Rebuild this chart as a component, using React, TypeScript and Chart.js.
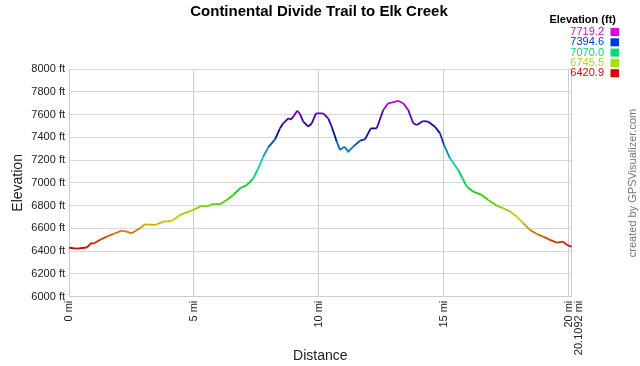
import React, { useEffect, useRef } from "react";
import { Chart, registerables } from "chart.js";

Chart.register(...registerables);

const chartTitle = "Continental Divide Trail to Elk Creek";
const legendTitle = "Elevation (ft)";
const legendValues = [7719.2, 7394.6, 7070.0, 6745.5, 6420.9];
const creditText = "created by GPSVisualizer.com";
const xTickValues = [0, 5, 10, 15, 20];
const totalDistance = 20.1092;

const distanceMi = [
  0.0, 0.31, 0.71, 0.91, 0.97, 1.24, 1.51, 1.77, 2.11, 2.31, 2.51, 2.84, 3.04, 3.44, 3.77,
  4.11, 4.44, 4.97, 5.31, 5.51, 5.77, 6.04, 6.31, 6.57, 6.84, 7.11, 7.37, 7.57, 7.77, 7.97,
  8.24, 8.44, 8.57, 8.77, 8.87, 8.97, 9.13, 9.24, 9.37, 9.57, 9.71, 9.88, 10.17, 10.37, 10.51,
  10.71, 10.84, 11.02, 11.17, 11.37, 11.64, 11.84, 12.07, 12.31, 12.57, 12.77, 13.17, 13.37,
  13.57, 13.77, 13.91, 14.17, 14.37, 14.64, 14.84, 15.0, 15.24, 15.57, 15.91, 16.17, 16.51,
  16.77, 17.11, 17.37, 17.64, 17.91, 18.17, 18.44, 18.71, 18.97, 19.24, 19.51, 19.77, 19.91,
  20.1092,
];

const elevationFt = [
  6430, 6422, 6432, 6475, 6465, 6499, 6528, 6551, 6580, 6571, 6557, 6601, 6636, 6630, 6660,
  6665, 6718, 6762, 6800, 6792, 6815, 6812, 6850, 6894, 6952, 6981, 7040, 7128, 7230, 7312,
  7382, 7479, 7523, 7567, 7555, 7581, 7634, 7605, 7537, 7493, 7523, 7611, 7611, 7567, 7493,
  7362, 7289, 7318, 7274, 7318, 7370, 7382, 7479, 7479, 7640, 7699, 7719, 7699,
  7640, 7523, 7508, 7543, 7537, 7493, 7435, 7333, 7216, 7113, 6967, 6923, 6894,
  6850, 6800, 6777, 6748, 6704, 6646, 6587, 6551, 6528, 6499, 6475, 6483, 6455,
  6440,
];

const FONT = "'Liberation Sans', Arial, Helvetica, sans-serif";
const minE = Math.min(...legendValues);
const maxE = Math.max(...legendValues);

function hueColor(e: number, light: number, darkenBlue: number): string {
  const t = Math.max(0, Math.min(1, (e - minE) / (maxE - minE)));
  const h = 300 * t;
  const l = light - darkenBlue * Math.max(0, 1 - Math.abs(h - 240) / 55);
  return `hsl(${h.toFixed(1)}, 100%, ${l.toFixed(1)}%)`;
}

const decorPlugin = {
  id: "decor",
  afterDraw(chart: any) {
    const ctx = chart.ctx as CanvasRenderingContext2D;
    ctx.save();
    ctx.fillStyle = "#000";
    ctx.font = `bold 15px ${FONT}`;
    ctx.textAlign = "center";
    ctx.textBaseline = "middle";
    ctx.fillText(chartTitle, 319, 12);
    ctx.font = `bold 11px ${FONT}`;
    ctx.textAlign = "right";
    ctx.fillStyle = "#000";
    ctx.fillText(legendTitle, 616, 20);
    ctx.font = `11px ${FONT}`;
    legendValues.forEach((v, i) => {
      const y = 32 + i * 10.3;
      ctx.fillStyle = hueColor(v, 44, 0);
      ctx.fillText(v.toFixed(1), 604, y);
      ctx.fillRect(610.5, y - 4, 8.5, 8);
    });
    ctx.translate(633, 183);
    ctx.rotate(-Math.PI / 2);
    ctx.textAlign = "center";
    ctx.fillStyle = "#777";
    ctx.font = `11px ${FONT}`;
    ctx.fillText(creditText, 0, 0);
    ctx.restore();
  },
};

export default function App() {
  const ref = useRef<HTMLCanvasElement | null>(null);
  useEffect(() => {
    if (!ref.current) return;
    const points = distanceMi.map((d, i) => ({ x: d, y: elevationFt[i] }));
    const chart = new Chart(ref.current, {
      type: "line",
      data: {
        datasets: [
          {
            data: points,
            borderWidth: 1.8,
            pointRadius: 0,
            tension: 0,
            borderColor: "#c00",
            segment: {
              borderColor: (c: any) => hueColor((c.p0.parsed.y + c.p1.parsed.y) / 2, 41, 9),
            },
          },
        ],
      },
      options: {
        animation: false,
        responsive: false,
        devicePixelRatio: 1,
        layout: { padding: { top: 69, right: 68.3, left: 0, bottom: 0 } },
        plugins: { legend: { display: false }, title: { display: false }, tooltip: { enabled: false } },
        scales: {
          x: {
            type: "linear",
            min: 0,
            max: totalDistance,
            afterFit: (s: any) => {
              s.height = 69.3;
            },
            afterBuildTicks: (s: any) => {
              s.ticks = [...xTickValues, totalDistance].map((v) => ({ value: v }));
            },
            grid: { color: "#cccccc", drawTicks: false },
            border: { color: "#cccccc" },
            ticks: {
              autoSkip: false,
              minRotation: 90,
              maxRotation: 90,
              padding: 4,
              color: "#222",
              font: { family: FONT, size: 11, lineHeight: 0.9 },
              callback: (v: any) => {
                if (v === 20) return ["20 mi", `${totalDistance} mi`];
                if (v === totalDistance) return "";
                return `${v} mi`;
              },
            },
            title: {
              display: true,
              text: "Distance",
              color: "#222",
              font: { family: FONT, size: 14 },
              padding: { top: 0, bottom: 1 },
            },
          },
          y: {
            min: 6000,
            max: 8000,
            afterFit: (s: any) => {
              s.width = 69;
            },
            grid: { color: "#d8d8d8", drawTicks: false },
            border: { color: "#cccccc" },
            ticks: {
              stepSize: 200,
              padding: 4,
              color: "#222",
              font: { family: FONT, size: 11 },
              callback: (v: any) => `${v} ft`,
            },
            title: {
              display: true,
              text: "Elevation",
              color: "#222",
              font: { family: FONT, size: 14 },
              padding: { top: 10, bottom: 0 },
            },
          },
        },
      },
      plugins: [decorPlugin],
    });
    return () => chart.destroy();
  }, []);
  return (
    <div style={{ position: "absolute", left: 0, top: 0, width: 640, height: 366, background: "#fff" }}>
      <canvas ref={ref} width={640} height={366} />
    </div>
  );
}
